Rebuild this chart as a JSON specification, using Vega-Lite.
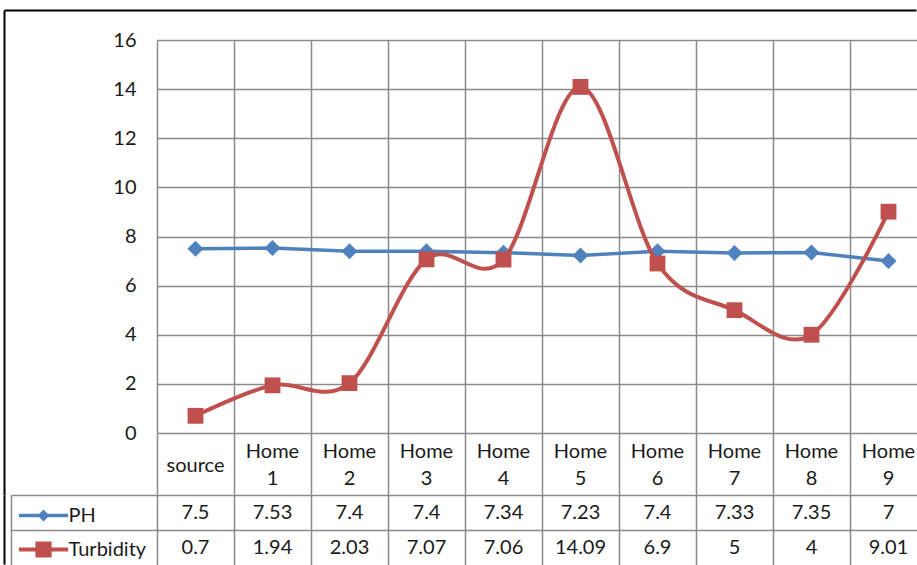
{
  "$schema": "https://vega.github.io/schema/vega-lite/v6.json",
  "background": "white",
  "padding": {"left": 4, "top": 10, "right": 0, "bottom": 0},
  "bounds": "flush",
  "spacing": 62,
  "config": {
    "font": "Lato",
    "view": {"stroke": null},
    "axis": {"labelFont": "Lato", "labelFontSize": 20, "labelColor": "#1a1a1a"}
  },
  "datasets": {
    "water": [
      {"site": "source", "series": "PH", "value": 7.5},
      {"site": "Home 1", "series": "PH", "value": 7.53},
      {"site": "Home 2", "series": "PH", "value": 7.4},
      {"site": "Home 3", "series": "PH", "value": 7.4},
      {"site": "Home 4", "series": "PH", "value": 7.34},
      {"site": "Home 5", "series": "PH", "value": 7.23},
      {"site": "Home 6", "series": "PH", "value": 7.4},
      {"site": "Home 7", "series": "PH", "value": 7.33},
      {"site": "Home 8", "series": "PH", "value": 7.35},
      {"site": "Home 9", "series": "PH", "value": 7},
      {"site": "source", "series": "Turbidity", "value": 0.7},
      {"site": "Home 1", "series": "Turbidity", "value": 1.94},
      {"site": "Home 2", "series": "Turbidity", "value": 2.03},
      {"site": "Home 3", "series": "Turbidity", "value": 7.07},
      {"site": "Home 4", "series": "Turbidity", "value": 7.06},
      {"site": "Home 5", "series": "Turbidity", "value": 14.09},
      {"site": "Home 6", "series": "Turbidity", "value": 6.9},
      {"site": "Home 7", "series": "Turbidity", "value": 5},
      {"site": "Home 8", "series": "Turbidity", "value": 4},
      {"site": "Home 9", "series": "Turbidity", "value": 9.01}
    ]
  },
  "vconcat": [
    {
      "width": 759,
      "height": 393,
      "data": {"name": "water"},
      "layer": [
        {
          "encoding": {
            "x": {
              "field": "site",
              "type": "nominal",
              "sort": null,
              "title": null,
              "scale": {
                "type": "band",
                "domain": ["source", "Home 1", "Home 2", "Home 3", "Home 4", "Home 5", "Home 6", "Home 7", "Home 8", "Home 9"],
                "range": [0, 770],
                "paddingInner": 0,
                "paddingOuter": 0
              },
              "axis": {
                "orient": "bottom",
                "domain": false,
                "grid": true,
                "gridColor": "#8a8a8a",
                "gridWidth": 1.5,
                "ticks": true,
                "tickSize": 62,
                "tickColor": "#8a8a8a",
                "tickWidth": 1.5,
                "bandPosition": 0,
                "tickExtra": false,
                "labelAngle": 0,
                "labelExpr": "datum.label == 'source' ? ['\u200b', 'source'] : [split(datum.label, ' ')[0], '\u200b', split(datum.label, ' ')[1]]",
                "labelBaseline": "middle",
                "labelPadding": -43.5,
                "labelLineHeight": 13.5,
                "title": null
              }
            },
            "y": {
              "field": "value",
              "type": "quantitative",
              "title": null,
              "scale": {"domain": [0, 16], "nice": false, "zero": true},
              "axis": {
                "values": [0, 2, 4, 6, 8, 10, 12, 14, 16],
                "grid": true,
                "gridColor": "#8a8a8a",
                "gridWidth": 1.5,
                "domain": false,
                "ticks": false,
                "labelPadding": 21,
                "title": null
              }
            }
          },
          "layer": [
            {
              "transform": [{"filter": "datum.series === 'PH'"}],
              "mark": {
                "type": "line",
                "color": "#4F81BD",
                "strokeWidth": 3.5,
                "point": {"shape": "diamond", "filled": true, "size": 256, "color": "#4F81BD"}
              }
            },
            {
              "transform": [{"filter": "datum.series === 'Turbidity'"}],
              "mark": {
                "type": "line",
                "color": "#C0504D",
                "strokeWidth": 4,
                "interpolate": "cardinal",
                "tension": 0,
                "point": {"shape": "square", "filled": true, "size": 250, "color": "#C0504D"}
              }
            }
          ]
        },
        {
          "mark": {"type": "point", "opacity": 0},
          "encoding": {
            "x": {
              "datum": 0.5,
              "type": "quantitative",
              "scale": {"domain": [0, 1], "range": [-153, 759], "nice": false},
              "axis": {"orient": "top", "offset": 30, "domainColor": "#000000", "domainWidth": 2, "ticks": false, "labels": false, "grid": false, "title": null}
            },
            "y": {
              "datum": 0.5,
              "type": "quantitative",
              "scale": {"domain": [0, 1], "range": [455, -30], "nice": false},
              "axis": {"orient": "left", "offset": 153, "domainColor": "#000000", "domainWidth": 2, "ticks": false, "labels": false, "grid": false, "title": null}
            }
          }
        }
      ],
      "resolve": {
        "scale": {"x": "independent", "y": "independent"},
        "axis": {"x": "independent", "y": "independent"}
      }
    },
    {
      "width": 759,
      "height": 69,
      "data": {"name": "water"},
      "layer": [
        {
          "encoding": {
            "x": {
              "field": "site",
              "type": "nominal",
              "sort": null,
              "title": null,
              "scale": {
                "type": "band",
                "domain": ["source", "Home 1", "Home 2", "Home 3", "Home 4", "Home 5", "Home 6", "Home 7", "Home 8", "Home 9"],
                "range": [0, 770],
                "paddingInner": 0,
                "paddingOuter": 0
              },
              "axis": {
                "orient": "top",
                "domain": false,
                "grid": true,
                "gridColor": "#8a8a8a",
                "gridWidth": 1.5,
                "ticks": false,
                "labels": false,
                "bandPosition": 0,
                "tickExtra": false,
                "title": null
              }
            },
            "y": {
              "field": "series",
              "type": "nominal",
              "title": null,
              "scale": {"type": "band", "domain": ["PH", "Turbidity"], "range": [0, 70], "paddingInner": 0, "paddingOuter": 0},
              "axis": {
                "orient": "left",
                "offset": 146,
                "domain": true,
                "domainColor": "#8a8a8a",
                "domainWidth": 1.5,
                "ticks": true,
                "tickSize": -146,
                "tickColor": "#8a8a8a",
                "tickWidth": 1.5,
                "bandPosition": 0,
                "tickExtra": false,
                "grid": true,
                "gridColor": "#8a8a8a",
                "gridWidth": 1.5,
                "labels": false,
                "title": null
              }
            }
          },
          "layer": [
            {
              "mark": {"type": "text", "fontSize": 20, "font": "Lato", "color": "#1a1a1a"},
              "encoding": {"text": {"field": "value", "type": "nominal"}}
            },
            {
              "mark": {"type": "point", "filled": true, "opacity": 0},
              "encoding": {
                "color": {
                  "field": "series",
                  "type": "nominal",
                  "scale": {"domain": ["PH", "Turbidity"], "range": ["#4F81BD", "#C0504D"]},
                  "legend": {
                    "orient": "none",
                    "legendX": -123.5,
                    "legendY": 465.5,
                    "direction": "vertical",
                    "title": null,
                    "padding": 0,
                    "symbolSize": 144,
                    "symbolOpacity": 1,
                    "symbolStrokeWidth": 0,
                    "labelFont": "Lato",
                    "labelFontSize": 20,
                    "labelColor": "#1a1a1a",
                    "labelOffset": 15,
                    "rowPadding": 14
                  }
                },
                "shape": {
                  "field": "series",
                  "type": "nominal",
                  "scale": {
                    "domain": ["PH", "Turbidity"],
                    "range": [
                      "M-4.1,-0.28H4.1V0.28H-4.1Z M0,-1L1,0L0,1L-1,0Z",
                      "M-4.1,-0.33H4.1V0.33H-4.1Z M-1.35,-1.35H1.35V1.35H-1.35Z"
                    ]
                  },
                  "legend": {
                    "orient": "none",
                    "legendX": -123.5,
                    "legendY": 465.5,
                    "direction": "vertical",
                    "title": null,
                    "padding": 0,
                    "symbolSize": 144,
                    "symbolOpacity": 1,
                    "symbolStrokeWidth": 0,
                    "labelFont": "Lato",
                    "labelFontSize": 20,
                    "labelColor": "#1a1a1a",
                    "labelOffset": 15,
                    "rowPadding": 14
                  }
                }
              }
            }
          ]
        },
        {
          "mark": {"type": "point", "opacity": 0},
          "encoding": {
            "y": {
              "datum": 0.5,
              "type": "quantitative",
              "scale": {"domain": [0, 1], "range": [0, 69], "nice": false},
              "axis": {"orient": "left", "offset": 153, "domainColor": "#000000", "domainWidth": 2, "ticks": false, "labels": false, "grid": false, "title": null}
            }
          }
        }
      ],
      "resolve": {
        "scale": {"y": "independent"},
        "axis": {"y": "independent"}
      }
    }
  ]
}
